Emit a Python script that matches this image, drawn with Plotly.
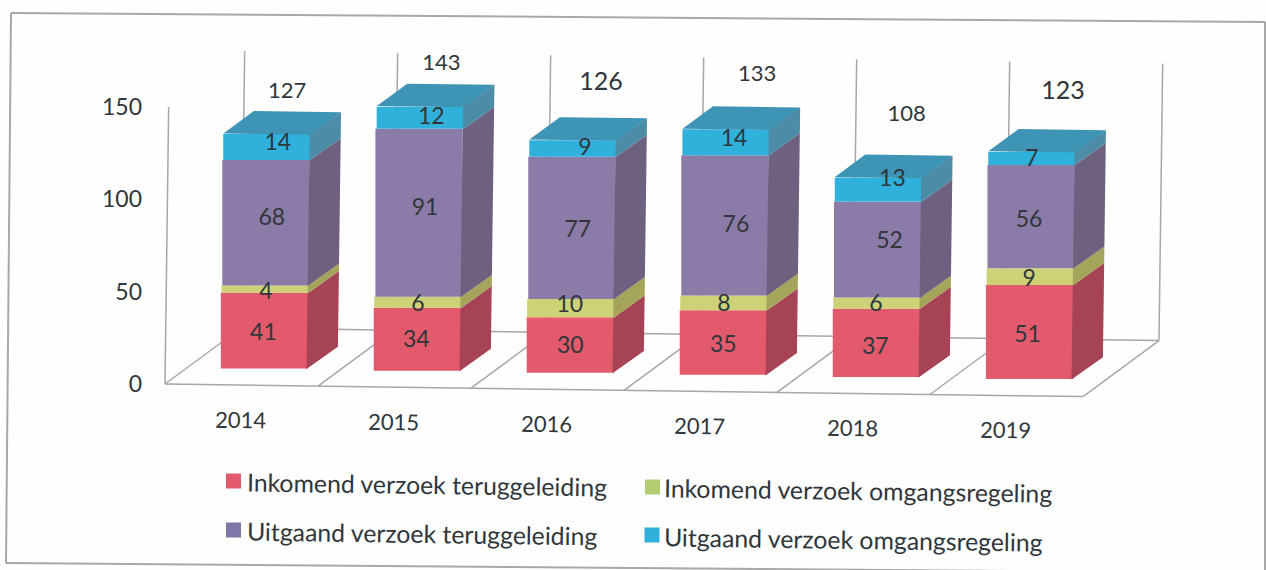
import plotly.graph_objects as go

# ---------- data ----------
YEARS = ["2014", "2015", "2016", "2017", "2018", "2019"]
SERIES = ["Inkomend verzoek teruggeleiding", "Inkomend verzoek omgangsregeling",
          "Uitgaand verzoek teruggeleiding", "Uitgaand verzoek omgangsregeling"]
INK_TERUG = [41, 34, 30, 35, 37, 51]
INK_OMG = [4, 6, 10, 8, 6, 9]
UIT_TERUG = [68, 91, 77, 76, 52, 56]
UIT_OMG = [14, 12, 9, 14, 13, 7]
TOTALS = [127, 143, 126, 133, 108, 123]
Y_TICKS = [0, 50, 100, 150]

# ---------- styling ----------
W, H = 1266, 570
FONT = "Lato"
INK = "#30363a"
FRONT = ["#e25a6b", "#cdd276", "#8b7ba8", "#2fb1dc"]
SIDE = ["#a64456", "#a4a55a", "#6e6180", "#4d8ca6"]
KEY = ["#e25a6b", "#b4cd72", "#7f77a8", "#2fb1dc"]
TOP = "#3e94b5"
WALL = "#aaa6a3"
FRAME = "#a8a8a8"

# pseudo-3D projection, in data units (slot = category position, v = value)
PX_X, PX_Y, X0, Y0 = 153.0, 1.846, 165.0, 384.0   # px per unit and px of the origin
DEPTH_X, DEPTH_Y = 76 / PX_X, 56 / PX_Y
TILT, LEAN = 2.1 / PX_Y, 0.00016                  # the scan is turned by about 0.75 deg
D0, D1 = 0.295, 0.695                             # front / back of the columns on the floor
HALF = 0.285
SEAM = 1.0 / PX_X


def proj(slot, v, d=0.0):
    return slot + DEPTH_X * d + LEAN * v, v + DEPTH_Y * d - TILT * slot


def px(xp, yp):
    return xp / W, 1 - yp / H


fig = go.Figure()
stack = [INK_TERUG, INK_OMG, UIT_TERUG, UIT_OMG]
cum = [[sum(s[i] for s in stack[:k]) for i in range(len(YEARS))] for k in range(5)]

# front faces: real bars
for k, vals in enumerate(stack):
    xs, bases = [], []
    for i in range(len(YEARS)):
        x, b = proj(i + 0.5, cum[k][i], D0)
        xs.append(x + LEAN * vals[i] / 2)
        bases.append(b)
    fig.add_bar(x=xs, y=vals, base=bases, width=2 * HALF, name=SERIES[k], marker_color=FRONT[k],
                marker_line_width=0, showlegend=False, customdata=YEARS,
                hovertemplate="%{customdata}: %{y}<extra>" + SERIES[k] + "</extra>")


def polygon(corners, colour):
    xs, ys = [], []
    for poly in corners:
        pts = [proj(*c) for c in poly]
        xs += [p[0] for p in pts] + [pts[0][0], None]
        ys += [p[1] for p in pts] + [pts[0][1], None]
    fig.add_scatter(x=xs, y=ys, mode="lines", fill="toself", fillcolor=colour,
                    line=dict(width=0, color=colour), hoverinfo="skip", showlegend=False)


# side and top faces
for k in range(4):
    faces = []
    for i in range(len(YEARS)):
        r = i + 0.5 + HALF
        a, b = cum[k][i], cum[k + 1][i]
        faces.append([(r - SEAM, a, D0), (r - SEAM, b, D0), (r, b, D1), (r, a, D1)])
    polygon(faces, SIDE[k])
tops = []
for i in range(len(YEARS)):
    l, r, t = i + 0.5 - HALF, i + 0.5 + HALF, cum[4][i]
    tops.append([(l, t, D0), (r, t, D0), (r, t, D1), (l, t, D1)])
polygon(tops, TOP)

# value labels: nudges (px) of the labels as they sit in the picture
SEG_DX = [[-1, 1, 6, 11], [-1, 0, 6, 11], [0, -1, 6, 12], [0, 0, 11, 8], [-1, -1, 12, 14], [-2, -1, -2, 0]]
SEG_DY = [[3, 3, -4, -4], [1, 2, -5, 0], [1, -3, 2, 0], [3, 1, 0, -3], [4, 1, -8, -10], [3, 3, 4, 1]]
lx, ly, lt = [], [], []
for i in range(len(YEARS)):
    for k, vals in enumerate(stack):
        x, y = proj(i + 0.5, cum[k][i] + vals[i] / 2, D0)
        lx.append(x + SEG_DX[i][k] / PX_X)
        ly.append(y - (1 + SEG_DY[i][k]) / PX_Y)
        lt.append(str(vals[i]))
fig.add_scatter(x=lx, y=ly, text=lt, mode="text", textposition="middle center",
                textfont=dict(family=FONT, size=23, color=INK), hoverinfo="skip", showlegend=False)

# totals above the columns (placed freely in the original)
TOTAL_NUDGE = [(20, 42), (21, 42), (28, 56), (31, 54), (28, 62), (31, 59)]
TOTAL_SIZE = [22, 22, 25, 22, 22, 25]
tx, ty = [], []
for i, t in enumerate(TOTALS):
    x, y = proj(i + 0.5, t, D0)
    tx.append(x + TOTAL_NUDGE[i][0] / PX_X)
    ty.append(y + TOTAL_NUDGE[i][1] / PX_Y)
fig.add_scatter(x=tx, y=ty, text=[str(t) for t in TOTALS], mode="text", textposition="middle center",
                textfont=dict(family=FONT, size=TOTAL_SIZE, color=INK), hoverinfo="skip", showlegend=False)

# walls and floor, behind the columns
shapes = []


def seg(a, b):
    x0, y0 = proj(*a)
    x1, y1 = proj(*b)
    shapes.append(dict(type="line", layer="below", xref="x", yref="y", x0=x0, y0=y0, x1=x1, y1=y1,
                       line=dict(color=WALL, width=1.5)))


n = len(YEARS)
seg((0, 0, 0), (0, 150, 0))
seg((0, 0, 0), (n, 0, 0))
seg((0, 0, 1), (n, 0, 1))
for s in range(n + 1):
    seg((s, 0, 0), (s, 0, 1))
    seg((s, 0, 1), (s, 150, 1))

# scanned page frame
fx0, fy0 = px(11, 13)
fx1, fy1 = px(1265, 22)
fx2, fy2 = px(1265, 573)
fx3, fy3 = px(6, 563)
for (a, b, c, d) in [(fx0, fy0, fx1, fy1), (fx0, fy0, fx3, fy3), (fx3, fy3, fx2, fy2), (fx1, fy1, fx2, fy2)]:
    shapes.append(dict(type="line", layer="below", xref="paper", yref="paper", x0=a, y0=b, x1=c, y1=d,
                       line=dict(color=FRAME, width=2)))

# hand-set legend, turned with the scan
LEG_POS = [(233.5, 481, 245, 484), (652.5, 487, 662, 490), (233.5, 530, 245, 533), (652, 535, 662, 539)]
annotations = []
for k, (sx, sy, txp, typ) in enumerate(LEG_POS):
    a, b = px(sx - 7.5, sy - 7.5)
    c, d = px(sx + 7.5, sy + 7.5)
    shapes.append(dict(type="rect", xref="paper", yref="paper", x0=a, y0=b, x1=c, y1=d,
                       fillcolor=KEY[k], line_width=0))
    ax, ay = px(txp, typ)
    annotations.append(dict(xref="paper", yref="paper", x=ax, y=ay, text=SERIES[k], showarrow=False,
                            xanchor="left", yanchor="middle", textangle=0.8,
                            font=dict(family=FONT, size=24.8, color=INK)))

# category labels
for i, yr in enumerate(YEARS):
    x, y = proj(i + 0.5, 0, 0)
    annotations.append(dict(xref="x", yref="y", x=x, y=y, xshift=-1, yshift=-34, text=yr, showarrow=False,
                            textangle=0.8, font=dict(family=FONT, size=22, color=INK)))

fig.update_layout(
    width=W, height=H, margin=dict(l=0, r=0, t=0, b=0), autosize=False,
    paper_bgcolor="#fefefe", plot_bgcolor="rgba(0,0,0,0)", barmode="overlay", showlegend=False,
    shapes=shapes, annotations=annotations,
    font=dict(family=FONT, color=INK),
    xaxis=dict(range=[-X0 / PX_X, (W - X0) / PX_X], visible=False, fixedrange=True),
    yaxis=dict(range=[(Y0 - H) / PX_Y, Y0 / PX_Y], tickvals=Y_TICKS, showgrid=False, zeroline=False,
               showline=False, ticks="", anchor="free", position=142 / W, side="left",
               tickfont=dict(family=FONT, size=23, color=INK), fixedrange=True),
)
fig.write_html("out.html", config=dict(displayModeBar=False),
               post_script="document.body.style.margin='0';")
